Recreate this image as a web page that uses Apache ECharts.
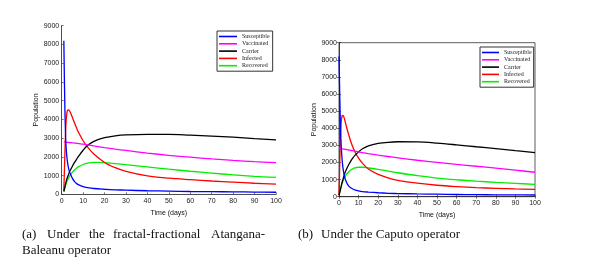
<!DOCTYPE html>
<html><head><meta charset="utf-8">
<script src="https://cdn.jsdelivr.net/npm/echarts@6/dist/echarts.min.js"></script>
<style>html,body{margin:0;padding:0;background:#fff;}#c{width:594px;height:272px;}</style>
</head><body><div id="c"></div>
<script>
// ---- Data: (a) fractal-fractional Atangana-Baleanu ----
const seriesNames = ['Susceptible','Vaccinated','Carrier','Infected','Recovered'];
const tA   = [1,1.5,2,2.5,3,3.5,4,5,6,7,8,10,12,15,20,25,30,40,50,60,70,80,90,100];
const susA = [8200,4500,2600,1900,1500,1250,1100,850,680,570,500,410,360,310,270,240,220,190,170,150,140,130,120,110];
const vacA = [2800,2790,2780,2775,2770,2765,2760,2750,2735,2720,2705,2680,2640,2580,2490,2410,2340,2200,2080,1980,1890,1810,1740,1690];
const carA = [150,400,650,850,1000,1150,1280,1500,1700,1880,2050,2350,2600,2830,3020,3120,3170,3200,3200,3160,3110,3050,2970,2900];
const infA = [200,2200,3800,4400,4500,4480,4380,4100,3800,3520,3270,2860,2530,2150,1700,1420,1220,980,860,780,710,650,590,540];
const recA = [150,350,550,700,830,930,1020,1180,1300,1400,1480,1590,1660,1700,1690,1640,1580,1460,1340,1230,1130,1040,960,900];
// ---- Data: (b) Caputo ----
const tB   = [0,0.3,0.6,1,1.5,2,2.5,3,4,5,6,7,8,10,12,15,20,25,30,40,50,60,70,80,90,100];
const susB = [8200,6500,4800,3300,2300,1700,1350,1100,800,620,520,450,400,340,300,270,230,200,185,160,145,130,120,110,105,100];
const vacB = [2850,2840,2830,2820,2800,2790,2780,2770,2750,2730,2710,2690,2670,2620,2580,2520,2430,2350,2270,2130,2010,1890,1780,1670,1550,1430];
const carB = [100,200,350,550,800,1000,1200,1380,1650,1880,2080,2250,2400,2620,2800,2970,3110,3180,3210,3200,3130,3030,2920,2810,2690,2580];
const infB = [100,1500,3000,4200,4700,4750,4650,4450,4000,3600,3230,2920,2660,2250,1950,1620,1300,1100,960,790,670,590,530,490,455,425];
const recB = [100,250,400,550,750,900,1040,1150,1330,1460,1560,1630,1680,1720,1720,1680,1600,1500,1400,1230,1090,990,910,840,780,725];
const xTicks = [0,10,20,30,40,50,60,70,80,90,100];
const yTicks = [0,1000,2000,3000,4000,5000,6000,7000,8000,9000];
const colors = ['#0000ff','#ff00ff','#000000','#ff0000','#00ee00'];

const zip = (t, v) => t.map((x, i) => [x, v[i]]);
const valsA = [susA, vacA, carA, infA, recA];
const valsB = [susB, vacB, carB, infB, recB];

const font = 'Liberation Sans';
const tickLabel = {fontFamily: font, fontSize: 7, color: '#1a1a1a', formatter: v => String(v)};
function xAx(grid, opts) {
  return Object.assign({
    type: 'value', gridIndex: grid, min: xTicks[0], max: xTicks[xTicks.length-1], interval: 10,
    axisLine: {show: true, lineStyle: {color: '#222', width: 0.8}},
    axisTick: {show: true, inside: true, length: 2, lineStyle: {color: '#222', width: 0.6}},
    axisLabel: Object.assign({margin: 3}, tickLabel),
    splitLine: {show: false},
    nameLocation: 'middle', nameTextStyle: {fontFamily: font, fontSize: 7, color: '#111'}
  }, opts);
}
function yAx(grid, opts) {
  return Object.assign({
    type: 'value', gridIndex: grid, min: yTicks[0], max: yTicks[yTicks.length-1], interval: 1000,
    axisLine: {show: true, lineStyle: {color: '#222', width: 0.8}},
    axisTick: {show: true, inside: true, length: 2, lineStyle: {color: '#222', width: 0.6}},
    axisLabel: Object.assign({margin: 2.5}, tickLabel),
    splitLine: {show: false},
    nameLocation: 'middle', nameRotate: 90, nameTextStyle: {fontFamily: font, fontSize: 7, color: '#111'}
  }, opts);
}

const series = [];
seriesNames.forEach((n, i) => {
  series.push({name: n, type: 'line', xAxisIndex: 0, yAxisIndex: 0, data: zip(tA, valsA[i]),
    showSymbol: false, smooth: 0.35, color: colors[i],
    lineStyle: {width: 1.3, color: colors[i]}, z: 10 - i});
});
seriesNames.forEach((n, i) => {
  series.push({name: n, type: 'line', xAxisIndex: 1, yAxisIndex: 1, data: zip(tB, valsB[i]),
    showSymbol: false, smooth: 0.35, color: colors[i],
    lineStyle: {width: 1.3, color: colors[i]}, z: 10 - i});
});

const legendBase = {
  orient: 'vertical', data: seriesNames, icon: 'rect', itemHeight: 1.6, itemGap: 0.3,
  itemTextGap: 3, backgroundColor: '#fff', borderColor: '#333', borderWidth: 1, borderRadius: 0,
  textStyle: {fontFamily: 'Liberation Serif', fontSize: 6, lineHeight: 7, color: '#222'},
  selectedMode: false
};

const capFont = '13px "Liberation Serif"';
const capWords = [
  ['(a)', 22, 236], ['Under', 47, 236], ['the', 89, 236], ['fractal-fractional', 113, 236], ['Atangana-', 211, 236],
  ['Baleanu operator', 22, 252],
  ['(b)', 298, 236], ['Under the Caputo operator', 321, 236]
];

const chart = echarts.init(document.getElementById('c'), null, {renderer: 'canvas'});
chart.setOption({
  animation: false,
  backgroundColor: '#fff',
  grid: [
    {left: 61.7, top: 25.7, width: 214.3, height: 168.6},
    {left: 339, top: 42.7, width: 196, height: 154, show: true, borderColor: '#333', borderWidth: 0.8, backgroundColor: 'transparent'}
  ],
  xAxis: [
    xAx(0, {name: 'Time (days)', nameGap: 13}),
    xAx(1, {name: 'Time (days)', nameGap: 12}),
    xAx(1, {position: 'top', axisLabel: {show: false}, axisLine: {show: false}})
  ],
  yAxis: [
    yAx(0, {name: 'Population', nameGap: 20}),
    yAx(1, {name: 'Population', nameGap: 18, axisLabel: Object.assign({margin: 2}, tickLabel)}),
    yAx(1, {position: 'right', axisLabel: {show: false}, axisLine: {show: false}})
  ],
  legend: [
    Object.assign({left: 217, top: 31, itemWidth: 18, padding: [2, 3, 2, 2]}, legendBase),
    Object.assign({left: 480, top: 47, itemWidth: 17, padding: [2, 2, 2, 2]}, legendBase)
  ],
  series: series,
  graphic: capWords.map(w => ({type: 'text', left: w[1], top: w[2] - 7.5,
    style: {text: w[0], font: capFont, fill: '#111'}}))
});
</script></body></html>
